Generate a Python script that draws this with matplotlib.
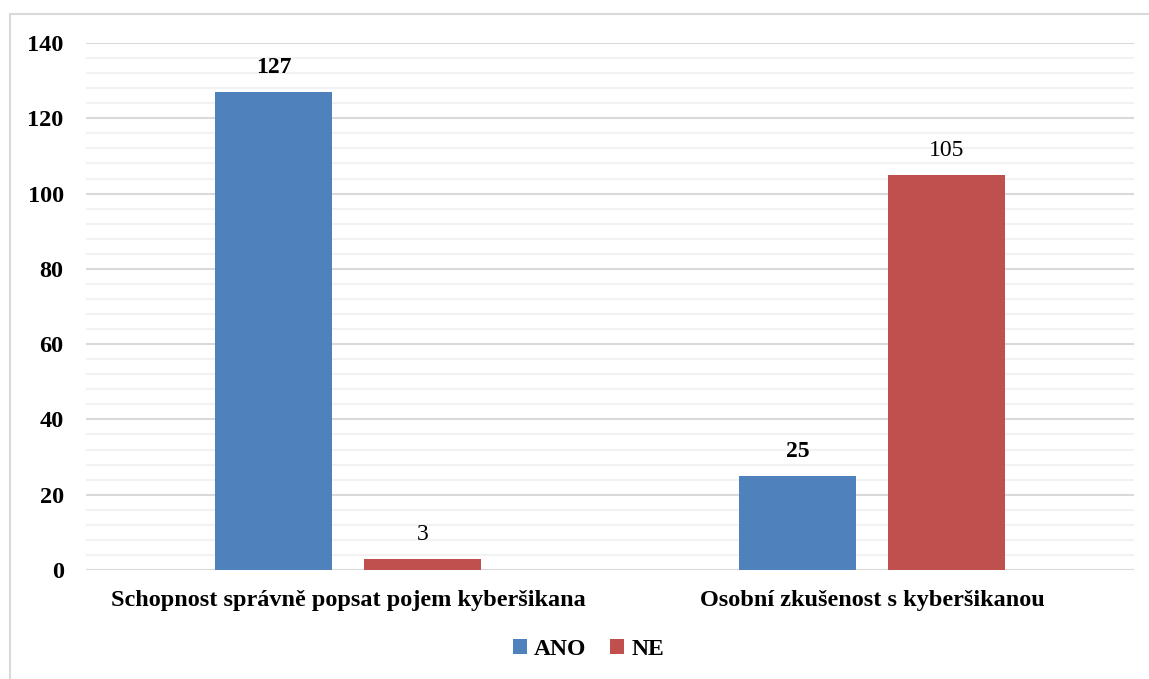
import matplotlib.pyplot as plt
import numpy as np
from matplotlib.patches import Rectangle
from matplotlib.ticker import MultipleLocator

categories = ["Schopnost správně popsat pojem kyberšikana", "Osobní zkušenost s kyberšikanou"]
ano_values = [127, 25]
ne_values = [3, 105]
series_names = ["ANO", "NE"]

BLUE = "#4F81BD"
RED = "#C0504D"

plt.rcParams["font.family"] = ["Liberation Serif", "DejaVu Serif"]

fig = plt.figure(figsize=(11.49, 6.79), dpi=100)
ax = fig.add_axes([0.0748, 0.1605, 0.9122, 0.7762])

# outer chart frame (cut by the image edges)
fig.patches.append(Rectangle((0.0087, -0.1), 1.2, 1.079, transform=fig.transFigure,
                             fill=False, edgecolor="#D9D9D9", linewidth=1.5))

x = np.arange(len(categories))
width = 0.224
offset = 0.142

bars_ano = ax.bar(x - offset, ano_values, width, color=BLUE, label=series_names[0], zorder=3)
bars_ne = ax.bar(x + offset, ne_values, width, color=RED, label=series_names[1], zorder=3)

# ANO labels are bold, NE labels regular
for rect, v in zip(bars_ano, ano_values):
    ax.text(rect.get_x() + rect.get_width() / 2, v + 3.6, str(v), ha="center", va="bottom",
            fontsize=17, fontweight="bold")
for rect, v in zip(bars_ne, ne_values):
    ax.text(rect.get_x() + rect.get_width() / 2, v + 3.6, str(v), ha="center", va="bottom",
            fontsize=17)

ax.set_xlim(-0.5, 1.5)
ax.set_ylim(0, 140)
ax.yaxis.set_major_locator(MultipleLocator(20))
ax.yaxis.set_minor_locator(MultipleLocator(4))
ax.grid(which="major", axis="y", color="#D9D9D9", linewidth=1.5, zorder=0)
ax.grid(which="minor", axis="y", color="#F2F2F2", linewidth=1.5, zorder=0)
ax.set_axisbelow(True)

ax.set_xticks(x)
ax.set_xticklabels(categories, fontsize=17.5, fontweight="bold")
for lbl in ax.get_yticklabels():
    lbl.set_fontweight("bold")
ax.tick_params(axis="y", labelsize=17.5, length=0, pad=16, which="both")
ax.tick_params(axis="x", length=0, pad=14.5)
for s in ax.spines.values():
    s.set_visible(False)

fig.legend(loc="center", bbox_to_anchor=(0.512, 0.043), ncol=2, frameon=False,
           prop={"size": 17, "weight": "bold"}, handlelength=0.6, handleheight=0.6,
           handletextpad=0.3, columnspacing=1.0)

plt.savefig("out.png", dpi=100, facecolor="white")
